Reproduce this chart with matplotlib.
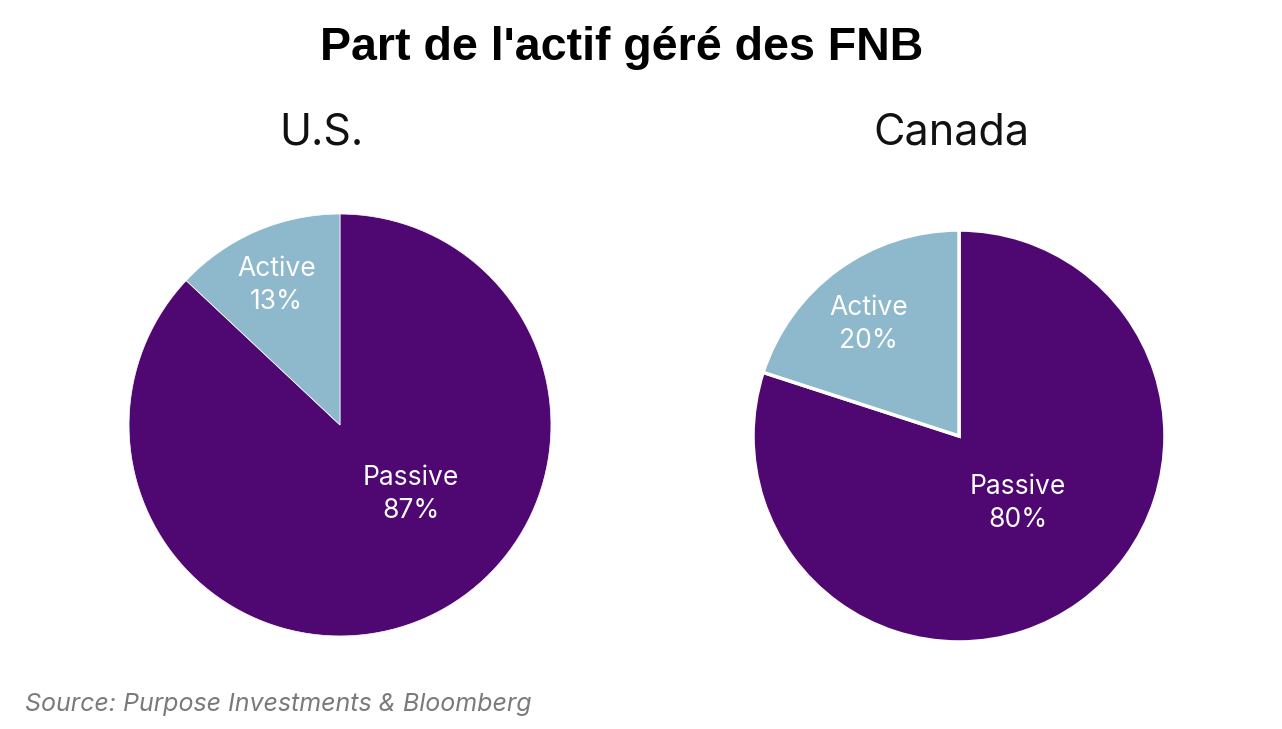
import matplotlib
matplotlib.use("Agg")
import matplotlib.pyplot as plt

plt.rcParams['font.family'] = ['Inter', 'DejaVu Sans']

title = "Part de l'actif géré des FNB"
source = "Source: Purpose Investments & Bloomberg"

regions = ["U.S.", "Canada"]
labels = ["Passive", "Active"]
us_share = [87, 13]
ca_share = [80, 20]

purple = "#4F0771"
blue = "#8EB8CB"

fig = plt.figure(figsize=(12.82, 7.29), dpi=100)

# axes placed so pies land where the reference draws them
ax_us = fig.add_axes([128 / 1282, (729 - 637) / 729, 424 / 1282, 424 / 729])
ax_ca = fig.add_axes([752 / 1282, (729 - 643) / 729, 414 / 1282, 414 / 729])

# label positions in pie-radius units
lab_pos = {
    "U.S.": [(0.335, -0.33), (-0.30, 0.66)],
    "Canada": [(0.285, -0.33), (-0.44, 0.54)],
}

for ax, region, vals, lw in [(ax_us, "U.S.", us_share, 0.5), (ax_ca, "Canada", ca_share, 2.5)]:
    ax.pie(vals, colors=[purple, blue], startangle=90, counterclock=False,
           wedgeprops=dict(edgecolor="white", linewidth=lw))
    ax.set_xlim(-1.005, 1.005)
    ax.set_ylim(-1.005, 1.005)
    ax.set_aspect("equal")
    for (x, y), name, v in zip(lab_pos[region], labels, vals):
        ax.text(x, y, f"{name}\n{v}%", color="white", fontsize=19, ha="center",
                va="center", linespacing=1.35)

fig.text(321 / 1282, 1 - 133 / 729, "U.S.", fontsize=31, ha="center", va="center",
         color="#111111")
fig.text(951 / 1282, 1 - 133 / 729, "Canada", fontsize=31, ha="center", va="center",
         color="#111111")

fig.text(622 / 1282, 1 - 48 / 729, title, fontsize=33.5, fontweight="bold", ha="center",
         va="center", family=["Liberation Sans", "DejaVu Sans"])
fig.text(25 / 1282, 1 - 704 / 729, source, fontsize=18, style="italic", color="#7a7a7a",
         ha="left", va="center")

fig.savefig("out.png", dpi=100, facecolor="white")
